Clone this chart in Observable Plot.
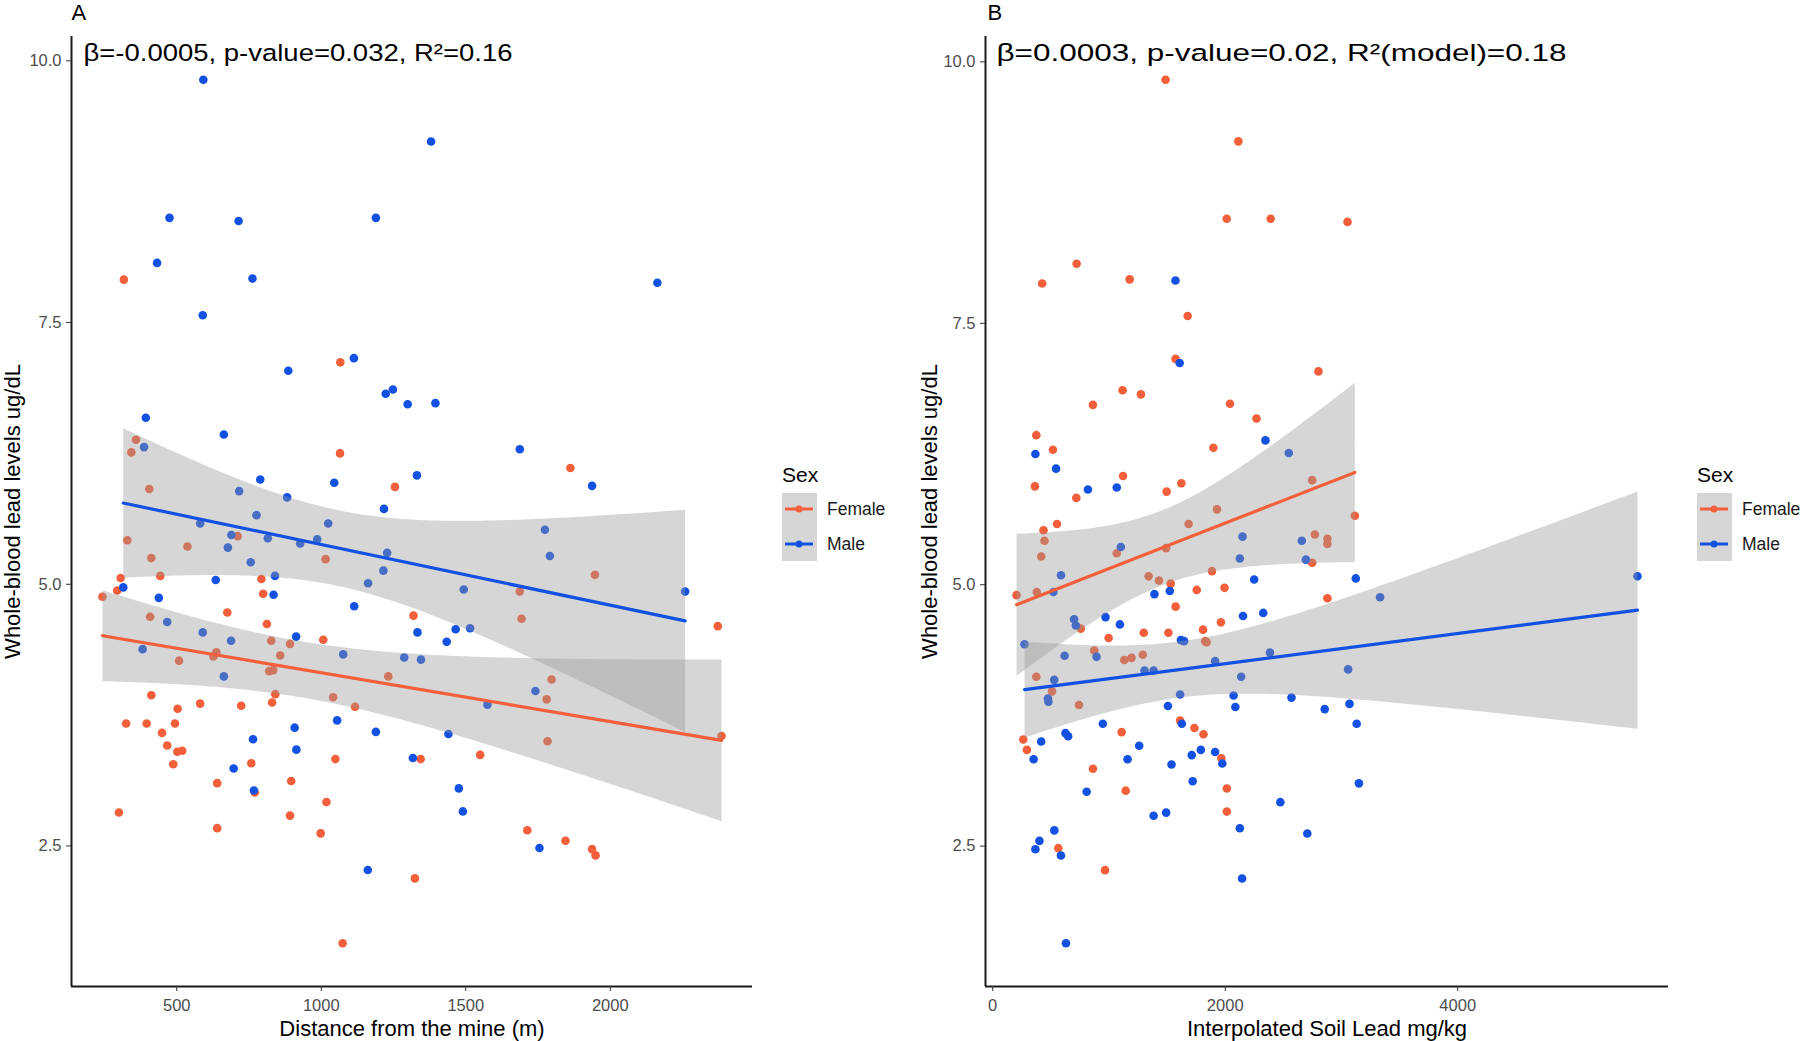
<!DOCTYPE html>
<html>
<head>
<meta charset="utf-8">
<script src="https://cdn.jsdelivr.net/npm/d3@7"></script>
<script src="https://cdn.jsdelivr.net/npm/@observablehq/plot@0.6"></script>
<style>
  body { margin: 0; background: #fff; }
  #wrap { position: relative; width: 1800px; height: 1041px; overflow: hidden; background: #fff; }
  .panel { position: absolute; top: 0; }
  .legend { position: absolute; top: 455px; }
</style>
</head>
<body>
<div id="wrap"></div>
<script>
// ---------- data ----------
const sexes = ["Female", "Male"];
const sexColors = ["#F25F3A", "#1251E2"];

const yTicks = [2.5, 5.0, 7.5, 10.0];
const aTicks = [500, 1000, 1500, 2000];
const bTicks = [0, 2000, 4000];

// Panel A: distance from the mine (m) vs whole-blood lead (ug/dL)
const aFemaleDist = [317,1066,359,343,1065,1862,1255,405,711,329,537,412,1015,1947,306,443,793,1687,294,243,799,
  675,1319,1693,2372,408,812,1007,827,892,508,637,627,858,820,834,1232,1797,1780,412,841,1041,1117,830,581,503,723,
  325,396,494,449,467,502,519,488,2385,1783,1550,1344,1049,758,640,896,770,1018,300,892,640,998,1713,1845,1937,1949,1324,1074];
const aFemaleLead = [7.91,7.12,6.38,6.26,6.25,6.11,5.93,5.91,5.46,5.42,5.36,5.25,5.24,5.09,5.06,5.08,5.05,4.93,4.94,4.88,4.91,
  4.73,4.70,4.67,4.60,4.69,4.62,4.47,4.46,4.43,4.27,4.35,4.31,4.32,4.17,4.18,4.12,4.09,3.90,3.94,3.95,3.92,3.83,3.87,3.86,3.81,3.84,
  3.67,3.67,3.67,3.58,3.46,3.40,3.41,3.28,3.55,3.50,3.37,3.33,3.33,3.29,3.10,3.12,3.01,2.92,2.82,2.79,2.67,2.62,2.65,2.55,2.47,2.41,2.19,1.57];
const aMaleDist = [592,1380,475,714,1189,432,762,2163,
  590,1113,886,1223,1248,1299,1395,393,663,387,1687,1937,1331,1045,789,716,882,1217,776,581,1024,689,815,986,927,677,756,1228,1774,1791,1215,1162,840,635,1493,2259,315,438,835,1114,
  467,1333,1465,1515,1434,913,590,688,382,1076,1287,1345,663,1741,1575,1055,908,1189,1440,764,914,1317,697,1476,767,1490,1755,1161];
const aMaleLead = [9.82,9.23,8.50,8.47,8.50,8.07,7.92,7.88,
  7.57,7.16,7.04,6.82,6.86,6.72,6.73,6.59,6.43,6.31,6.29,5.94,6.04,5.97,6.00,5.89,5.83,5.72,5.66,5.58,5.58,5.47,5.44,5.43,5.39,5.35,5.21,5.30,5.52,5.27,5.13,5.01,5.08,5.04,4.95,4.93,4.97,4.87,4.90,4.79,
  4.64,4.54,4.57,4.58,4.45,4.50,4.54,4.46,4.38,4.33,4.30,4.28,4.12,3.98,3.85,3.70,3.63,3.59,3.57,3.52,3.42,3.34,3.24,3.05,3.03,2.83,2.48,2.27];

// Panel B: interpolated soil lead (mg/kg) vs whole-blood lead (ug/dL)
const bFemaleSoil = [1487,2113,2013,2391,3052,722,425,1178,
  1677,1573,2802,1117,1275,862,2041,2269,375,518,1898,1121,363,719,1496,1623,2748,1929,3115,1685,553,437,445,417,1067,1492,2771,2879,2879,2748,1341,1430,1531,1886,205,379,1755,1994,2879,1573,
  758,997,1299,1511,1809,1963,1828,1840,873,1132,1194,1291,375,510,742,1612,1735,1813,1109,263,294,1967,862,2014,1144,2014,564,966];
const bFemaleLead = [9.83,9.24,8.50,8.50,8.47,8.07,7.88,7.92,
  7.57,7.16,7.04,6.86,6.82,6.72,6.73,6.59,6.43,6.29,6.31,6.04,5.94,5.83,5.89,5.97,6.00,5.72,5.66,5.58,5.58,5.52,5.42,5.27,5.30,5.35,5.48,5.44,5.39,5.21,5.08,5.04,5.01,5.13,4.90,4.93,4.95,4.97,4.87,4.79,
  4.58,4.49,4.54,4.54,4.57,4.64,4.46,4.45,4.37,4.28,4.30,4.33,4.12,3.98,3.85,3.70,3.63,3.57,3.59,3.52,3.42,3.34,3.24,3.05,3.03,2.83,2.48,2.27];
const bMaleSoil = [1572,
  1608,2346,367,2547,545,819,1067,587,1102,2149,2126,2659,2694,2249,3123,5546,522,1391,1523,3332,
  700,715,970,1094,1619,1646,2153,2327,274,618,893,1306,1384,1913,2385,2137,3057,529,475,479,1612,1507,2072,2087,2570,2856,3069,3131,1627,947,626,649,417,352,1260,1160,1712,1790,1913,1975,1538,1720,3150,808,2474,1384,1492,2126,2706,530,402,367,587,2145,630];
const bMaleLead = [7.91,
  7.12,6.38,6.25,6.26,6.11,5.91,5.93,5.09,5.36,5.46,5.25,5.42,5.24,5.05,5.06,5.08,4.93,4.91,4.94,4.88,
  4.67,4.61,4.69,4.62,4.47,4.46,4.70,4.73,4.43,4.32,4.31,4.18,4.18,4.27,4.35,4.12,4.19,4.09,3.91,3.88,3.95,3.84,3.94,3.83,3.92,3.81,3.86,3.67,3.67,3.67,3.58,3.55,3.50,3.33,3.46,3.33,3.37,3.42,3.40,3.29,3.28,3.12,3.10,3.02,2.92,2.79,2.82,2.67,2.62,2.65,2.55,2.47,2.41,2.19,1.57];

const yTitle = "Whole-blood lead levels ug/dL";

// ---------- drawing ----------
const FONT = "'Liberation Sans', Arial, Helvetica, sans-serif";

function expand(ext) {
  const p = (ext[1] - ext[0]) * 0.05;
  return [ext[0] - p, ext[1] + p];
}

function panel(cfg) {
  const data = [
    ...cfg.fx.map((x, i) => ({x, y: cfg.fy[i], sex: "Female"})),
    ...cfg.mx.map((x, i) => ({x, y: cfg.my[i], sex: "Male"}))
  ];
  const xd = expand(d3.extent(data, d => d.x));
  const yd = expand(d3.extent(data, d => d.y));
  const svg = Plot.plot({
    width: 900,
    height: 1041,
    marginLeft: cfg.ml,
    marginRight: cfg.mr,
    marginTop: 36,
    marginBottom: 55,
    style: {fontFamily: FONT, background: "transparent", overflow: "visible"},
    x: {domain: xd},
    y: {domain: yd},
    color: {domain: sexes, range: sexColors},
    marks: [
      Plot.dot(data, {x: "x", y: "y", fill: "sex", r: 4.3}),
      Plot.linearRegressionY(data, {x: "x", y: "y", stroke: "sex", fill: "#999999", fillOpacity: 0.4, strokeWidth: 3.2, ci: 0.95}),
      Plot.ruleX([xd[0]], {stroke: "#1a1a1a", strokeWidth: 2}),
      Plot.ruleY([yd[0]], {stroke: "#1a1a1a", strokeWidth: 2}),
      Plot.axisX({ticks: cfg.ticks, tickSize: 5, tickPadding: 8, stroke: "#333", fill: "#4d4d4d", fontSize: 16.5, label: null, tickFormat: d3.format("d")}),
      Plot.axisY({ticks: yTicks, tickSize: 5, tickPadding: 5, stroke: "#333", fill: "#4d4d4d", fontSize: 16.5, label: null, tickFormat: d3.format(".1f")}),
      Plot.text([cfg.note], {frameAnchor: "top-left", dx: cfg.noteDx, dy: 24, lineAnchor: "bottom", textAnchor: "start", fontSize: 24.5, fill: "#000"}),
      Plot.text([cfg.letter], {frameAnchor: "top-left", dx: cfg.letterDx, dy: -17, lineAnchor: "bottom", textAnchor: "start", fontSize: 22, fill: "#000"}),
      Plot.text([cfg.xTitle], {frameAnchor: "bottom", dy: 49, lineAnchor: "bottom", textAnchor: "middle", fontSize: 22, fill: "#000"}),
      Plot.text([yTitle], {frameAnchor: "left", dx: cfg.yTitleDx, rotate: -90, lineAnchor: "bottom", textAnchor: "middle", fontSize: 22, fill: "#000"})
    ]
  });
  // stretch annotation to the reference's width
  d3.select(svg).selectAll("text")
    .filter(function () { return this.textContent === cfg.note; })
    .attr("textLength", cfg.noteLen)
    .attr("lengthAdjust", "spacingAndGlyphs");
  svg.classList.add("panel");
  svg.style.left = cfg.left + "px";
  return svg;
}

function legend(left) {
  const w = 130, h = 112;
  const s = d3.create("svg").attr("class", "legend").attr("width", w).attr("height", h)
    .style("left", left + "px").style("font-family", FONT).style("overflow", "visible");
  s.append("text").attr("x", 0).attr("y", 27).attr("font-size", 21).attr("fill", "#000").text("Sex");
  s.append("rect").attr("x", 0).attr("y", 38).attr("width", 35).attr("height", 68).attr("fill", "#D6D6D6");
  sexes.forEach((name, i) => {
    const cy = 54 + i * 35;
    s.append("line").attr("x1", 3).attr("x2", 31).attr("y1", cy).attr("y2", cy)
      .attr("stroke", sexColors[i]).attr("stroke-width", 3);
    s.append("circle").attr("cx", 17).attr("cy", cy).attr("r", 3.5).attr("fill", sexColors[i]);
    s.append("text").attr("x", 45).attr("y", cy).attr("dy", "0.35em").attr("font-size", 17.5)
      .attr("fill", "#1a1a1a").text(name);
  });
  return s.node();
}

const wrap = document.getElementById("wrap");
wrap.appendChild(panel({
  fx: aFemaleDist, fy: aFemaleLead, mx: aMaleDist, my: aMaleLead,
  ticks: aTicks, ml: 71, mr: 148, left: 0,
  note: "β=-0.0005, p-value=0.032, R²=0.16", noteDx: 12, noteLen: 429,
  letter: "A", letterDx: 0, xTitle: "Distance from the mine (m)", yTitleDx: -52
}));
wrap.appendChild(panel({
  fx: bFemaleSoil, fy: bFemaleLead, mx: bMaleSoil, my: bMaleLead,
  ticks: bTicks, ml: 85, mr: 132, left: 900,
  note: "β=0.0003, p-value=0.02, R²(model)=0.18", noteDx: 11, noteLen: 570,
  letter: "B", letterDx: 2, xTitle: "Interpolated Soil Lead mg/kg", yTitleDx: -49
}));
wrap.appendChild(legend(782));
wrap.appendChild(legend(1697));
</script>
</body>
</html>
